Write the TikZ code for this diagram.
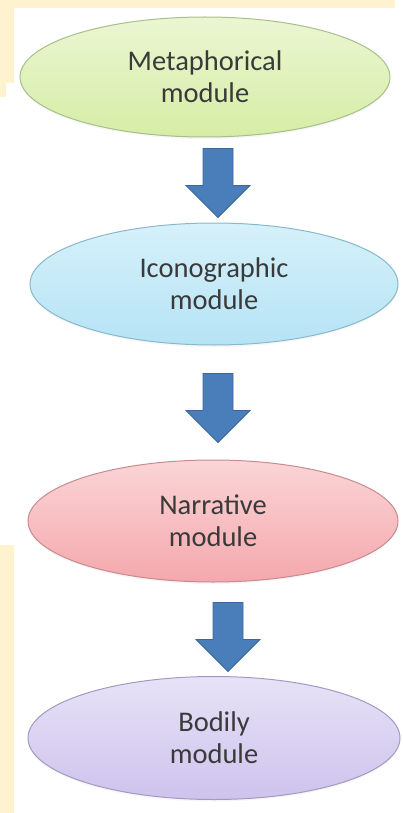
\documentclass[tikz,border=0pt]{standalone}
\usepackage{fontspec}
\setmainfont{Carlito}
\usetikzlibrary{calc,shapes.geometric,shadows}
\definecolor{pageyellow}{HTML}{FFF3CF}
\definecolor{textgray}{HTML}{3A3A3A}
\definecolor{arrowblue}{HTML}{4A7EBB}
\definecolor{arrowedge}{HTML}{3C679A}
\definecolor{metatop}{HTML}{EBF6D2}
\definecolor{metabot}{HTML}{D6EDA6}
\definecolor{metaedge}{HTML}{A7BF8B}
\definecolor{icontop}{HTML}{D6F1FA}
\definecolor{iconbot}{HTML}{B6E3F5}
\definecolor{iconedge}{HTML}{88B9CB}
\definecolor{narrtop}{HTML}{FBD5D7}
\definecolor{narrbot}{HTML}{F4A8AD}
\definecolor{narredge}{HTML}{C98A8F}
\definecolor{bodtop}{HTML}{E7E2F7}
\definecolor{bodbot}{HTML}{CEC3EC}
\definecolor{bodedge}{HTML}{A39AC2}
\pgfkeys{
  /blockarrow/.cd,
  position/.initial={0,0},
  shaft width/.initial=30,
  head width/.initial=64,
  shaft length/.initial=37,
  head length/.initial=32
}
\newcommand{\blockarrow}[1][]{
    {
        \pgfkeys{/blockarrow/.cd,#1}
        \pgfkeys{/blockarrow/position/.get=\bapos}
        \pgfkeys{/blockarrow/shaft width/.get=\basw}
        \pgfkeys{/blockarrow/head width/.get=\bahw}
        \pgfkeys{/blockarrow/shaft length/.get=\basl}
        \pgfkeys{/blockarrow/head length/.get=\bahl}
        \draw[arrowbody] ($ (\bapos) + (-\basw/2,0) $) -- ($ (\bapos) + (\basw/2,0) $)
            -- ($ (\bapos) + (\basw/2,\basl) $) -- ($ (\bapos) + (\bahw/2,\basl) $)
            -- ($ (\bapos) + (0,\basl+\bahl) $) -- ($ (\bapos) + (-\bahw/2,\basl) $)
            -- ($ (\bapos) + (-\basw/2,\basl) $) -- cycle;
    }
}

\begin{document}
\begin{tikzpicture}[x=1pt,y=-1pt,
    module/.style={ellipse,draw,line width=1pt,inner sep=0pt,align=center,
        text=textgray,font=\fontsize{28.5}{32}\selectfont,
        drop shadow={opacity=0.07,shadow xshift=0pt,shadow yshift=-2pt}},
    arrowbody/.style={fill=arrowblue,draw=arrowedge,line width=0.8pt,line join=miter}]
    \useasboundingbox (0,0) rectangle (403,813);

    % page background
    \fill[pageyellow] (0,0) rectangle (395,8);
    \fill[pageyellow] (0,0) rectangle (14,83);
    \fill[pageyellow] (0,83) rectangle (6,97);
    \fill[pageyellow] (0,545) rectangle (14,813);

    \node[module,minimum width=370,minimum height=120,draw=metaedge,
        top color=metatop,bottom color=metabot] (meta) at (205,77) {Metaphorical\\module};
    \node[module,minimum width=368,minimum height=122,draw=iconedge,
        top color=icontop,bottom color=iconbot] (icon) at (214,284) {Iconographic\\module};
    \node[module,minimum width=370,minimum height=122,draw=narredge,
        top color=narrtop,bottom color=narrbot] (narr) at (213,521) {Narrative\\module};
    \node[module,minimum width=372,minimum height=123,draw=bodedge,
        top color=bodtop,bottom color=bodbot] (bod) at (214,738) {Bodily\\module};

    \coordinate (a1) at ($ (meta.south) + (13,11) $);
    \coordinate (a2) at ($ (icon.south) + (4,28) $);
    \coordinate (a3) at ($ (narr.south) + (15,20) $);

    \foreach \a in {a1,a2,a3} {
        \blockarrow[position=\a]
    }
\end{tikzpicture}
\end{document}
